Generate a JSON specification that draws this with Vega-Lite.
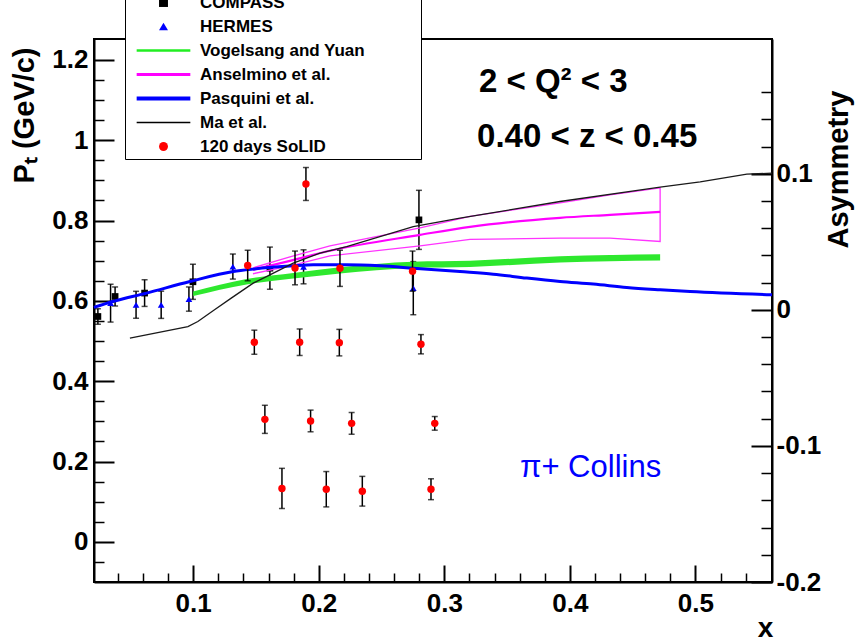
{
  "$schema": "https://vega.github.io/schema/vega-lite/v6.json",
  "width": 678,
  "height": 543,
  "autosize": "none",
  "padding": {"left": 94, "top": 39, "right": 85, "bottom": 59},
  "background": "white",
  "config": {
    "font": "Liberation Sans",
    "view": {"stroke": "black", "strokeWidth": 2},
    "axis": {"grid": false, "labelFont": "Liberation Sans", "titleFont": "Liberation Sans", "labelColor": "black", "titleColor": "black", "tickColor": "black", "domainColor": "black", "labelFlush": false, "labelOverlap": false},
    "legend": {"labelFont": "Liberation Sans"}
  },
  "datasets": {
    "solid": [
      {"series": "120 days SoLID", "x": 0.1434, "pt": 0.688, "err": 0.038},
      {"series": "120 days SoLID", "x": 0.1811, "pt": 0.682, "err": 0.042},
      {"series": "120 days SoLID", "x": 0.1898, "pt": 0.891, "err": 0.041},
      {"series": "120 days SoLID", "x": 0.2169, "pt": 0.681, "err": 0.045},
      {"series": "120 days SoLID", "x": 0.2747, "pt": 0.674, "err": 0.05},
      {"series": "120 days SoLID", "x": 0.1487, "pt": 0.497, "err": 0.030},
      {"series": "120 days SoLID", "x": 0.1848, "pt": 0.497, "err": 0.033},
      {"series": "120 days SoLID", "x": 0.2164, "pt": 0.496, "err": 0.033},
      {"series": "120 days SoLID", "x": 0.2814, "pt": 0.492, "err": 0.024},
      {"series": "120 days SoLID", "x": 0.1571, "pt": 0.305, "err": 0.035},
      {"series": "120 days SoLID", "x": 0.1935, "pt": 0.301, "err": 0.027},
      {"series": "120 days SoLID", "x": 0.2262, "pt": 0.295, "err": 0.027},
      {"series": "120 days SoLID", "x": 0.2924, "pt": 0.295, "err": 0.017},
      {"series": "120 days SoLID", "x": 0.1707, "pt": 0.133, "err": 0.050},
      {"series": "120 days SoLID", "x": 0.2060, "pt": 0.131, "err": 0.044},
      {"series": "120 days SoLID", "x": 0.2347, "pt": 0.126, "err": 0.037},
      {"series": "120 days SoLID", "x": 0.2894, "pt": 0.131, "err": 0.026}
    ],
    "exp": [
      {"series": "COMPASS", "x": 0.0241, "asym": -0.0049, "err": 0.0057},
      {"series": "COMPASS", "x": 0.0378, "asym": 0.0098, "err": 0.0070},
      {"series": "COMPASS", "x": 0.0613, "asym": 0.0123, "err": 0.0098},
      {"series": "COMPASS", "x": 0.0998, "asym": 0.0206, "err": 0.0129},
      {"series": "COMPASS", "x": 0.1611, "asym": 0.0306, "err": 0.0155},
      {"series": "COMPASS", "x": 0.2798, "asym": 0.0661, "err": 0.0217},
      {"series": "HERMES", "x": 0.0342, "asym": 0.0049, "err": 0.0139},
      {"series": "HERMES", "x": 0.0545, "asym": 0.0037, "err": 0.0099},
      {"series": "HERMES", "x": 0.0745, "asym": 0.0037, "err": 0.0100},
      {"series": "HERMES", "x": 0.0966, "asym": 0.0079, "err": 0.0089},
      {"series": "HERMES", "x": 0.1316, "asym": 0.0318, "err": 0.0092},
      {"series": "HERMES", "x": 0.1879, "asym": 0.0316, "err": 0.0125},
      {"series": "HERMES", "x": 0.2753, "asym": 0.0159, "err": 0.0195}
    ],
    "vogelsang": [
      {"x": 0.1, "lo": 0.0101, "hi": 0.0134},
      {"x": 0.1425, "lo": 0.0186, "hi": 0.0226},
      {"x": 0.1797, "lo": 0.0230, "hi": 0.0270},
      {"x": 0.2169, "lo": 0.0267, "hi": 0.0313},
      {"x": 0.2751, "lo": 0.0308, "hi": 0.0354},
      {"x": 0.3205, "lo": 0.0315, "hi": 0.0361},
      {"x": 0.3922, "lo": 0.0348, "hi": 0.0394},
      {"x": 0.4719, "lo": 0.0363, "hi": 0.0409}
    ],
    "anselmino_band": [
      {"x": 0.1476, "asym": 0.0309, "ord": 1},
      {"x": 0.1771, "asym": 0.0389, "ord": 2},
      {"x": 0.2089, "asym": 0.0470, "ord": 3},
      {"x": 0.2807, "asym": 0.0602, "ord": 4},
      {"x": 0.3205, "asym": 0.0687, "ord": 5},
      {"x": 0.3922, "asym": 0.0786, "ord": 6},
      {"x": 0.4320, "asym": 0.0845, "ord": 7},
      {"x": 0.4719, "asym": 0.0896, "ord": 8},
      {"x": 0.4719, "asym": 0.0502, "ord": 9},
      {"x": 0.4320, "asym": 0.0527, "ord": 10},
      {"x": 0.3922, "asym": 0.0527, "ord": 11},
      {"x": 0.3205, "asym": 0.0518, "ord": 12},
      {"x": 0.2807, "asym": 0.0470, "ord": 13},
      {"x": 0.2089, "asym": 0.0397, "ord": 14},
      {"x": 0.1771, "asym": 0.0323, "ord": 15},
      {"x": 0.1476, "asym": 0.0265, "ord": 16}
    ],
    "anselmino_central": [
      {"x": 0.1476, "asym": 0.0294},
      {"x": 0.1771, "asym": 0.0360},
      {"x": 0.2089, "asym": 0.0434},
      {"x": 0.2807, "asym": 0.0551},
      {"x": 0.3205, "asym": 0.0610},
      {"x": 0.3922, "asym": 0.0676},
      {"x": 0.4320, "asym": 0.0698},
      {"x": 0.4719, "asym": 0.0720}
    ],
    "pasquini": [
      {"x": 0.0209, "asym": 0.0018},
      {"x": 0.0360, "asym": 0.0061},
      {"x": 0.0629, "asym": 0.0123},
      {"x": 0.0974, "asym": 0.0208},
      {"x": 0.1319, "asym": 0.0281},
      {"x": 0.1478, "asym": 0.0299},
      {"x": 0.1797, "asym": 0.0323},
      {"x": 0.1956, "asym": 0.0331},
      {"x": 0.2222, "asym": 0.0331},
      {"x": 0.2488, "asym": 0.0323},
      {"x": 0.2753, "asym": 0.0306},
      {"x": 0.3125, "asym": 0.0281},
      {"x": 0.3390, "asym": 0.0262},
      {"x": 0.3657, "asym": 0.0233},
      {"x": 0.3922, "asym": 0.0208},
      {"x": 0.4187, "asym": 0.0189},
      {"x": 0.4453, "asym": 0.0164},
      {"x": 0.4719, "asym": 0.0147},
      {"x": 0.4958, "asym": 0.0134},
      {"x": 0.5610, "asym": 0.0110}
    ],
    "ma": [
      {"x": 0.0496, "asym": -0.0208},
      {"x": 0.0958, "asym": -0.0123},
      {"x": 0.1037, "asym": -0.0086},
      {"x": 0.1170, "asym": 0.0},
      {"x": 0.1303, "asym": 0.0086},
      {"x": 0.1478, "asym": 0.0196},
      {"x": 0.1595, "asym": 0.0250},
      {"x": 0.1797, "asym": 0.0343},
      {"x": 0.2010, "asym": 0.0417},
      {"x": 0.2222, "asym": 0.0465},
      {"x": 0.2753, "asym": 0.0612},
      {"x": 0.3125, "asym": 0.0674},
      {"x": 0.3922, "asym": 0.0796},
      {"x": 0.4719, "asym": 0.0902},
      {"x": 0.5038, "asym": 0.0940},
      {"x": 0.5410, "asym": 0.0997},
      {"x": 0.5610, "asym": 0.1004}
    ],
    "notes": [
      {"text": "2 < Q² < 3", "x": 0.3276, "pt": 1.120},
      {"text": "0.40 < z < 0.45", "x": 0.3261, "pt": 0.984}
    ],
    "channel": [
      {"text": "π+ Collins", "x": 0.3603, "pt": 0.161}
    ]
  },
  "resolve": {"scale": {"y": "independent"}, "axis": {"x": "independent", "y": "independent"}},
  "layer": [
    {
      "mark": {"type": "rule", "color": "#c4c4c4", "strokeWidth": 3},
      "encoding": {
        "y": {"datum": 0, "type": "quantitative",
          "scale": {"domain": [-0.2, 0.199], "nice": false, "zero": false},
          "axis": {"orient": "right", "values": [-0.2, -0.1, 0, 0.1], "tickSize": -21, "tickWidth": 2, "domainWidth": 2,
            "labelFontSize": 26, "labelFontWeight": "bold", "labelPadding": 25, "labelAlign": "left", "labelBaseline": "middle",
            "labelExpr": "replace(format(datum.value, '~g'), '\u2212', '-')",
            "title": "Asymmetry", "titleFontSize": 29, "titleFontWeight": "bold", "titleAngle": 270,
            "titleX": 75, "titleY": 130, "titleAlign": "center", "titleBaseline": "alphabetic"}}
      }
    },
    {
      "data": {"name": "exp"},
      "mark": {"type": "errorbar", "ticks": {"size": 6, "thickness": 1.5, "color": "black"}, "thickness": 1.5, "color": "black"},
      "encoding": {
        "x": {"field": "x", "type": "quantitative", "scale": {"domain": [0.021, 0.561], "nice": false, "zero": false}, "axis": null},
        "y": {"field": "asym", "type": "quantitative", "scale": {"domain": [-0.2, 0.199], "nice": false, "zero": false}, "axis": null},
        "yError": {"field": "err"}
      }
    },
    {
      "data": {"name": "exp"},
      "mark": {"type": "point", "filled": true, "opacity": 1, "size": 45},
      "encoding": {
        "x": {"field": "x", "type": "quantitative", "axis": null},
        "y": {"field": "asym", "type": "quantitative", "scale": {"domain": [-0.2, 0.199], "nice": false, "zero": false}, "axis": null},
        "color": {"field": "series", "type": "nominal",
          "scale": {"domain": ["COMPASS", "HERMES", "Vogelsang and Yuan", "Anselmino et al.", "Pasquini et al.", "Ma et al.", "120 days SoLID"],
                    "range": ["#000000", "#0000ff", "#22ee22", "#ff00ff", "#0000ff", "#000000", "#ff0000"]},
          "legend": {"orient": "none", "legendX": 31, "legendY": -49, "title": null, "direction": "vertical",
            "labelFontSize": 17, "labelFontWeight": "bold", "labelColor": "black", "labelLimit": 500,
            "labelOffset": 28, "symbolOffset": 26,
            "labelExpr": "datum.label + '\u00a0\u00a0\u00a0\u00a0\u00a0\u00a0\u00a0\u00a0\u00a0\u00a0\u00a0\u200b'",
            "rowPadding": 6, "padding": 4, "fillColor": "white", "strokeColor": "black", "symbolSize": 80,
            "encode": {
              "legend": {"strokeWidth": {"value": 2}},
              "symbols": {
                "size": {"value": 80},
                "opacity": {"value": 1}
              }}}},
        "shape": {"field": "series", "type": "nominal",
          "scale": {"domain": ["COMPASS", "HERMES", "Vogelsang and Yuan", "Anselmino et al.", "Pasquini et al.", "Ma et al.", "120 days SoLID"],
                    "range": ["square", "triangle-up",
                      "M-6,-0.28L6,-0.28L6,0.28L-6,0.28Z",
                      "M-6,-0.34L6,-0.34L6,0.34L-6,0.34Z",
                      "M-6,-0.45L6,-0.45L6,0.45L-6,0.45Z",
                      "M-6,-0.17L6,-0.17L6,0.17L-6,0.17Z",
                      "circle"]}}
      }
    },
    {
      "data": {"name": "vogelsang"},
      "mark": {"type": "area", "color": "#2ee82e", "opacity": 1, "interpolate": "monotone"},
      "encoding": {
        "x": {"field": "x", "type": "quantitative", "axis": null},
        "y": {"field": "lo", "type": "quantitative", "scale": {"domain": [-0.2, 0.199], "nice": false, "zero": false}, "axis": null},
        "y2": {"field": "hi"}
      }
    },
    {
      "data": {"name": "anselmino_band"},
      "mark": {"type": "line", "color": "#ff33ff", "strokeWidth": 1.3},
      "encoding": {
        "x": {"field": "x", "type": "quantitative", "axis": null},
        "y": {"field": "asym", "type": "quantitative", "scale": {"domain": [-0.2, 0.199], "nice": false, "zero": false}, "axis": null},
        "order": {"field": "ord", "type": "quantitative"}
      }
    },
    {
      "data": {"name": "anselmino_central"},
      "mark": {"type": "line", "color": "#ff00ff", "strokeWidth": 2.2, "interpolate": "monotone"},
      "encoding": {
        "x": {"field": "x", "type": "quantitative", "axis": null},
        "y": {"field": "asym", "type": "quantitative", "scale": {"domain": [-0.2, 0.199], "nice": false, "zero": false}, "axis": null}
      }
    },
    {
      "data": {"name": "pasquini"},
      "mark": {"type": "line", "color": "#0000ff", "strokeWidth": 3, "interpolate": "monotone"},
      "encoding": {
        "x": {"field": "x", "type": "quantitative", "scale": {"domain": [0.021, 0.561], "nice": false, "zero": false},
          "axis": {"orient": "bottom", "values": [0.1, 0.2, 0.3, 0.4, 0.5], "tickSize": -17, "tickWidth": 2, "domainWidth": 2,
            "labelFontSize": 26, "labelFontWeight": "bold", "labelPadding": 25, "labelExpr": "format(datum.value, '~g')",
            "title": "x", "titleFontSize": 28, "titleFontWeight": "bold", "titleX": 671, "titleY": 54, "titleAlign": "center", "titleBaseline": "alphabetic"}},
        "y": {"field": "asym", "type": "quantitative", "scale": {"domain": [-0.2, 0.199], "nice": false, "zero": false},
          "axis": {"orient": "right", "values": [-0.18, -0.16, -0.14, -0.12, -0.08, -0.06, -0.04, -0.02, 0.02, 0.04, 0.06, 0.08, 0.12, 0.14, 0.16],
            "tickSize": -11, "tickWidth": 1.5, "labels": false, "domain": false, "title": null}}
      }
    },
    {
      "data": {"name": "ma"},
      "mark": {"type": "line", "color": "#1a1a1a", "strokeWidth": 1.3},
      "encoding": {
        "x": {"field": "x", "type": "quantitative",
          "axis": {"orient": "bottom", "values": [0.04, 0.06, 0.08, 0.12, 0.14, 0.16, 0.18, 0.22, 0.24, 0.26, 0.28, 0.32, 0.34, 0.36, 0.38, 0.42, 0.44, 0.46, 0.48, 0.52, 0.54],
            "tickSize": -9, "tickWidth": 1.5, "labels": false, "domain": false, "title": null}},
        "y": {"field": "asym", "type": "quantitative", "scale": {"domain": [-0.2, 0.199], "nice": false, "zero": false}, "axis": null}
      }
    },
    {
      "data": {"name": "solid"},
      "mark": {"type": "errorbar", "ticks": {"size": 6, "thickness": 1.5, "color": "black"}, "thickness": 1.5, "color": "black"},
      "encoding": {
        "x": {"field": "x", "type": "quantitative", "axis": null},
        "y": {"field": "pt", "type": "quantitative", "scale": {"domain": [-0.1, 1.252], "nice": false, "zero": false}, "axis": null},
        "yError": {"field": "err"}
      }
    },
    {
      "data": {"name": "solid"},
      "mark": {"type": "point", "filled": true, "opacity": 1, "size": 55},
      "encoding": {
        "x": {"field": "x", "type": "quantitative", "axis": null},
        "y": {"field": "pt", "type": "quantitative", "scale": {"domain": [-0.1, 1.252], "nice": false, "zero": false},
          "axis": {"orient": "left", "values": [0, 0.2, 0.4, 0.6, 0.8, 1, 1.2], "tickSize": -20, "tickWidth": 2, "domainWidth": 2,
            "labelFontSize": 26, "labelFontWeight": "bold", "labelPadding": 26, "labelExpr": "format(datum.value, '~g')",
            "title": "P\u209c (GeV/c)", "titleFontSize": 29, "titleFontWeight": "bold", "titleAngle": 270,
            "titleX": -61, "titleY": 76, "titleAlign": "center", "titleBaseline": "alphabetic"}},
        "color": {"field": "series", "type": "nominal"},
        "shape": {"field": "series", "type": "nominal"}
      }
    },
    {
      "data": {"name": "notes"},
      "mark": {"type": "text", "align": "left", "baseline": "alphabetic", "fontSize": 33, "fontWeight": "bold", "color": "black"},
      "encoding": {
        "x": {"field": "x", "type": "quantitative", "axis": null},
        "y": {"field": "pt", "type": "quantitative", "scale": {"domain": [-0.1, 1.252], "nice": false, "zero": false},
          "axis": {"orient": "left", "values": [-0.05, 0.05, 0.1, 0.15, 0.25, 0.3, 0.35, 0.45, 0.5, 0.55, 0.65, 0.7, 0.75, 0.85, 0.9, 0.95, 1.05, 1.1, 1.15],
            "tickSize": -10, "tickWidth": 1.5, "labels": false, "domain": false, "title": null}},
        "text": {"field": "text"}
      }
    },
    {
      "data": {"name": "channel"},
      "mark": {"type": "text", "align": "left", "baseline": "alphabetic", "fontSize": 31, "fontWeight": "normal", "color": "#0000ff"},
      "encoding": {
        "x": {"field": "x", "type": "quantitative", "axis": null},
        "y": {"field": "pt", "type": "quantitative", "scale": {"domain": [-0.1, 1.252], "nice": false, "zero": false}, "axis": null},
        "text": {"field": "text"}
      }
    }
  ]
}
